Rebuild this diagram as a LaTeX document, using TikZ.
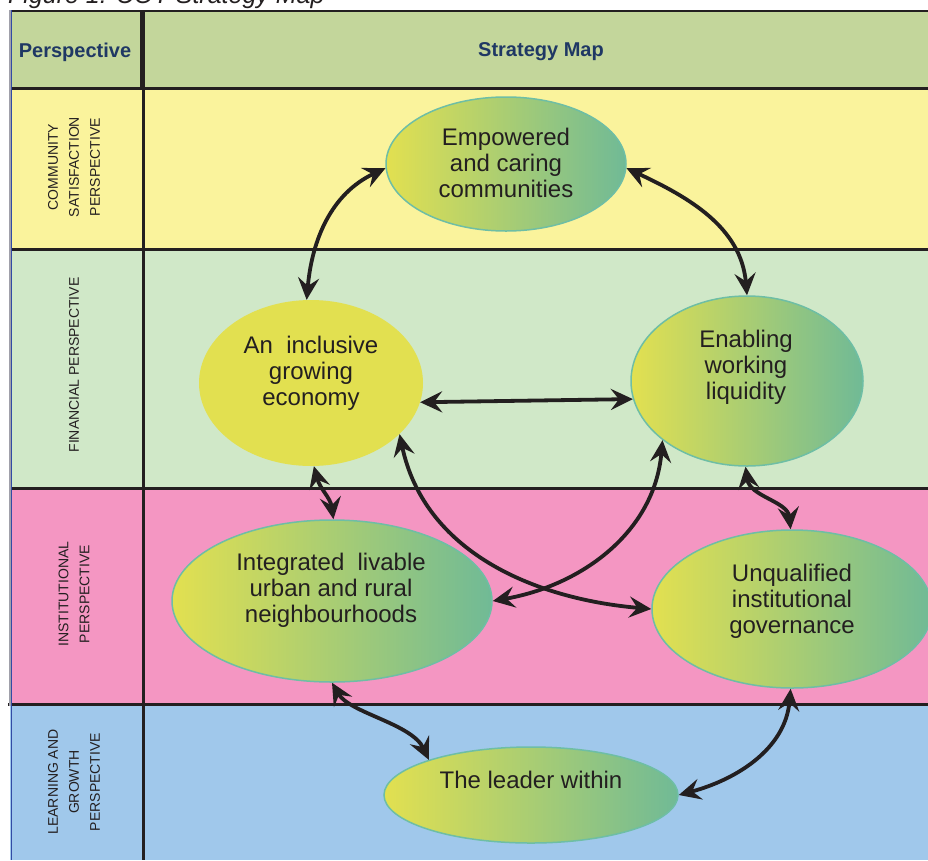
\documentclass[tikz,border=0pt]{standalone}
\usepackage{fontspec}
\setmainfont{Liberation Sans}
\usetikzlibrary{shapes.geometric, arrows.meta}

\definecolor{hdr}{RGB}{195,214,155}
\definecolor{rowyel}{RGB}{250,243,156}
\definecolor{rowgrn}{RGB}{208,232,200}
\definecolor{rowpnk}{RGB}{244,150,194}
\definecolor{rowblu}{RGB}{160,200,235}
\definecolor{ink}{RGB}{35,31,32}
\definecolor{navy}{RGB}{31,56,100}
\definecolor{gyel}{RGB}{226,224,80}
\definecolor{gteal}{RGB}{112,186,150}
\definecolor{rim}{RGB}{110,190,165}
\definecolor{edgeblue}{RGB}{50,75,165}
\definecolor{edgegrey}{RGB}{160,160,170}

\begin{document}
\begin{tikzpicture}[x=1pt, y=1pt,
  goal/.style={ellipse, draw=rim, line width=1.5pt, left color=gyel, right color=gteal, inner sep=0pt},
  solidgoal/.style={ellipse, fill=gyel, inner sep=0pt},
  goaltext/.style={align=center, text=ink, inner sep=0pt, font=\fontsize{24}{26}\selectfont},
  sidelabel/.style={rotate=90, align=center, text=ink, inner sep=0pt, font=\fontsize{14}{21}\selectfont},
  headtext/.style={text=navy, inner sep=0pt, font=\bfseries\fontsize{20}{24}\selectfont},
  rule/.style={ink, line width=3pt},
  tip/.tip={Stealth[length=22pt, width=21pt, inset=8pt]},
  link/.style={ink, line width=3.8pt, tip-tip},
]
\path[use as bounding box] (0,0) rectangle (928,-860);

% caption above the table
\node[anchor=base west, inner sep=0pt, text=ink, font=\itshape\fontsize{25}{25}\selectfont] (caption) at (8,-3) {Figure 1: COT Strategy Map};

% row bands
\fill[hdr]    (10,-11)    rectangle (928,-88.7);
\fill[rowyel] (10,-88.7)  rectangle (928,-249);
\fill[rowgrn] (10,-249)   rectangle (928,-488);
\fill[rowpnk] (10,-488)   rectangle (928,-704.7);
\fill[rowblu] (10,-704.7) rectangle (928,-860);

% table rules
\draw[ink, line width=2.3pt] (10,-11.2) -- (928,-11.2);
\draw[ink, line width=2.7pt] (10,-88.7) -- (928,-88.7);
\draw[rule] (10,-249) -- (928,-249);
\draw[rule] (10,-488) -- (928,-488);
\draw[ink, line width=3.5pt] (8,-704.7) -- (928,-704.7);
\draw[rule] (143,-11) -- (143,-860);
\draw[ink, line width=5pt] (142.5,-11) -- (142.5,-88.7);
\draw[edgegrey, line width=1.3pt] (10,-10) -- (10,-706);
\draw[edgeblue, line width=1.6pt] (11.5,-10) -- (11.5,-860);

% header texts
\node[headtext] (hPersp) at (75,-52) {Perspective};
\node[headtext] (hMap) at (541,-52) {Strategy Map};

% perspective labels
\node[sidelabel] (pCS) at (74,-167) {COMMUNITY\\SATISFACTION\\PERSPECTIVE};
\node[sidelabel] (pF)  at (74,-365) {FINANCIAL PERSPECTIVE};
\node[sidelabel] (pI)  at (74,-594) {INSTITUTIONAL\\PERSPECTIVE};
\node[sidelabel] (pL)  at (74,-782) {LEARNING AND\\GROWTH\\PERSPECTIVE};

% strategic objectives
\node[goal, minimum width=240pt, minimum height=134pt] (emp) at (506,-164) {};
\node[goaltext] (empT) at (506,-163) {Empowered\\and caring\\communities};

\node[solidgoal, minimum width=224pt, minimum height=166pt] (inc) at (311,-383) {};
\node[goaltext] (incT) at (311,-373) {An\ \ inclusive\\growing\\economy};

\node[goal, minimum width=232pt, minimum height=170pt] (enab) at (747,-381) {};
\node[goaltext] (enabT) at (746,-367) {Enabling\\working\\liquidity};

\node[goal, minimum width=320pt, minimum height=162pt] (integ) at (332,-601) {};
\node[goaltext] (integT) at (331,-590) {Integrated\ \ livable\\urban and rural\\neighbourhoods};

\node[goal, minimum width=280pt, minimum height=158pt] (unq) at (792,-609) {};
\node[goaltext] (unqT) at (792,-601) {Unqualified\\institutional\\governance};

\node[goal, minimum width=294pt, minimum height=96pt] (lead) at (531,-795) {};
\node[goaltext] (leadT) at (531,-779.5) {The leader within};

% two-way links between objectives
\draw[link] (emp.182) to[out=205, in=85] (inc.93);
\draw[link] (emp.-2) to[out=-25, in=95] (enab.90);
\draw[link] (inc.-10) -- (enab.189);
\draw[link] (inc.-88) .. controls +(-75:24) and +(98:22) .. (integ.89);
\draw[link] (enab.-91) .. controls +(-82:30) and +(96:28) .. (unq.91);
\draw[link] (inc.-30) to[out=-78, in=175] (unq.180);
\draw[link] (enab.215) to[out=-95, in=10] (integ.0);
\draw[link] (integ.-90) .. controls +(-60:35) and +(115:40) .. (lead.161);
\draw[link] (unq.-91) to[out=-95, in=15] (lead.0);
\end{tikzpicture}
\end{document}
